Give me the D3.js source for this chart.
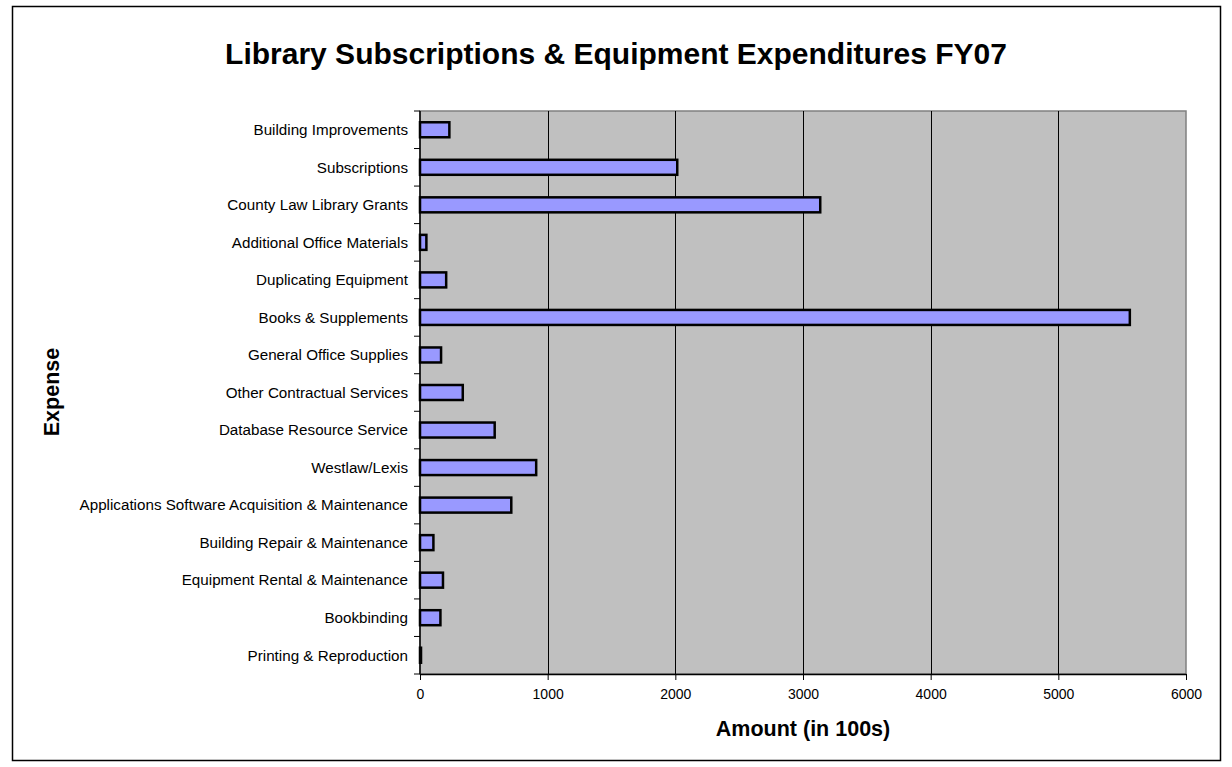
<!DOCTYPE html>
<html>
<head>
<meta charset="utf-8">
<script src="https://cdn.jsdelivr.net/npm/d3@7"></script>
<style>
  body { margin: 0; background: #fff; }
  text { font-family: "Liberation Sans", Arial, sans-serif; }
</style>
</head>
<body>
<div id="chart"></div>
<script>
// Categories, top to bottom
var categories = ["Building Improvements", "Subscriptions", "County Law Library Grants",
  "Additional Office Materials", "Duplicating Equipment", "Books & Supplements",
  "General Office Supplies", "Other Contractual Services", "Database Resource Service",
  "Westlaw/Lexis", "Applications Software Acquisition & Maintenance",
  "Building Repair & Maintenance", "Equipment Rental & Maintenance", "Bookbinding",
  "Printing & Reproduction"];

// Amounts (in 100s)
var amounts = [230, 2015, 3135, 50, 205, 5560, 165, 335, 585, 910, 715, 105, 180, 160, 8];

var xTicks = [0, 1000, 2000, 3000, 4000, 5000, 6000];

var width = 1232, height = 767;
var margin = {top: 111, right: 46, bottom: 93, left: 420};
var innerW = width - margin.left - margin.right,
    innerH = height - margin.top - margin.bottom;

var svg = d3.select("#chart").append("svg")
  .attr("width", width)
  .attr("height", height);

// Outer chart frame
svg.append("rect")
  .attr("x", 12.5).attr("y", 6.5)
  .attr("width", 1208).attr("height", 754)
  .attr("fill", "#fff")
  .attr("stroke", "#000")
  .attr("stroke-width", 1.5);

svg.append("text")
  .attr("x", 616).attr("y", 64)
  .attr("text-anchor", "middle")
  .style("font-size", "30px")
  .style("font-weight", "bold")
  .text("Library Subscriptions & Equipment Expenditures FY07");

var g = svg.append("g")
  .attr("transform", "translate(" + margin.left + "," + margin.top + ")");

var x = d3.scaleLinear().domain([0, 6000]).range([0, innerW]);
var y = d3.scaleBand().domain(categories).range([0, innerH]).padding(0);

// Plot area
g.append("rect")
  .attr("width", innerW).attr("height", innerH)
  .attr("fill", "#c0c0c0")
  .attr("stroke", "#808080")
  .attr("stroke-width", 1.5);

// Grid lines
g.selectAll(".grid")
  .data(xTicks.slice(1, -1))
  .enter().append("line")
    .attr("x1", function(d) { return Math.round(x(d)) + 0.5; })
    .attr("x2", function(d) { return Math.round(x(d)) + 0.5; })
    .attr("y1", 0).attr("y2", innerH)
    .attr("stroke", "#000")
    .attr("stroke-width", 1);

// Bars
var barH = 15;
g.selectAll(".bar")
  .data(amounts)
  .enter().append("rect")
    .attr("x", 0)
    .attr("y", function(d, i) { return y(categories[i]) + (y.bandwidth() - barH) / 2; })
    .attr("width", function(d) { return x(d); })
    .attr("height", barH)
    .attr("fill", "#9999ff")
    .attr("stroke", "#000")
    .attr("stroke-width", 2.5);

// X axis
var xAxis = g.append("g")
  .attr("transform", "translate(0," + innerH + ")")
  .call(d3.axisBottom(x).tickValues(xTicks).tickFormat(d3.format("d"))
    .tickSize(6).tickSizeOuter(0).tickPadding(9));
xAxis.select(".domain").attr("stroke", "#000").attr("stroke-width", 1.5);
xAxis.selectAll("text").style("font-size", "14px").style("font-family", "Liberation Sans, Arial, sans-serif");

// Y axis: ticks at band boundaries, labels centered on bands
var yAxis = g.append("g");
yAxis.append("line")
  .attr("x1", 0).attr("x2", 0).attr("y1", 0).attr("y2", innerH)
  .attr("stroke", "#000").attr("stroke-width", 1.5);
yAxis.selectAll(".ytick")
  .data(d3.range(categories.length + 1))
  .enter().append("line")
    .attr("x1", -6).attr("x2", 0)
    .attr("y1", function(i) { return i * y.step(); })
    .attr("y2", function(i) { return i * y.step(); })
    .attr("stroke", "#000");
yAxis.selectAll(".ylabel")
  .data(categories)
  .enter().append("text")
    .attr("x", -12)
    .attr("y", function(d) { return y(d) + y.bandwidth() / 2; })
    .attr("dy", "0.35em")
    .attr("text-anchor", "end")
    .style("font-size", "15.2px")
    .text(function(d) { return d; });

// Axis titles
svg.append("text")
  .attr("x", margin.left + innerW / 2).attr("y", 736)
  .attr("text-anchor", "middle")
  .style("font-size", "21.5px")
  .style("font-weight", "bold")
  .text("Amount (in 100s)");

svg.append("text")
  .attr("transform", "translate(59,392) rotate(-90)")
  .attr("text-anchor", "middle")
  .style("font-size", "21.5px")
  .style("font-weight", "bold")
  .text("Expense");
</script>
</body>
</html>
